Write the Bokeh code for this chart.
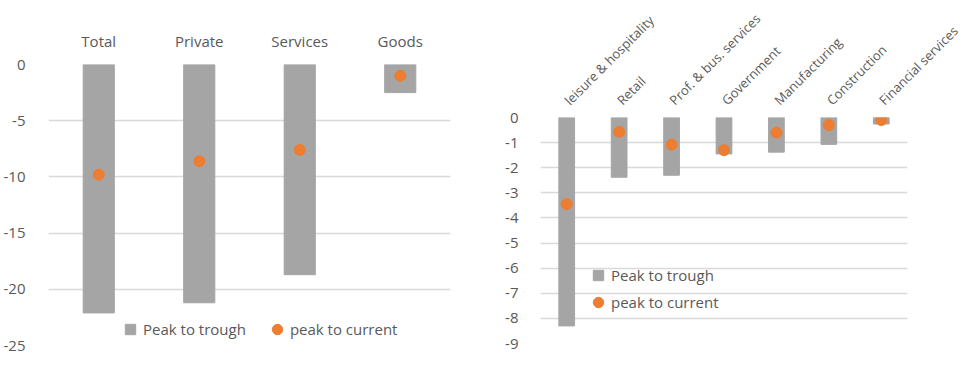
import math
from bokeh.plotting import figure
from bokeh.models import (FactorRange, Range1d, Legend, LegendItem, FixedTicker,
                          ColumnDataSource, PrintfTickFormatter)
from bokeh.layouts import row, column
from bokeh.embed import file_html
from bokeh.resources import INLINE

# ---- data ----
left_cats = ["Total", "Private", "Services", "Goods"]
left_trough = [-22.1, -21.2, -18.7, -2.5]
left_current = [-9.8, -8.6, -7.6, -1.0]
left_ticks = [0, -5, -10, -15, -20, -25]

right_cats = ["leisure & hospitality", "Retail", "Prof. & bus. services", "Government",
              "Manufacturing", "Construction", "Financial services"]
right_trough = [-8.3, -2.38, -2.3, -1.45, -1.38, -1.07, -0.26]
right_current = [-3.45, -0.57, -1.08, -1.3, -0.6, -0.3, -0.1]
right_ticks = [0, -1, -2, -3, -4, -5, -6, -7, -8, -9]

series_names = ["Peak to trough", "peak to current"]

BAR = "#a5a5a5"
DOT = "#ed7d31"
TXT = "#595959"
GRID = "#d9d9d9"
FONT = "Open Sans"


def style(p, ticks):
    p.outline_line_color = None
    p.xgrid.grid_line_color = None
    tk = FixedTicker(ticks=ticks)
    p.yaxis.ticker = tk
    p.ygrid.ticker = tk
    p.yaxis.formatter = PrintfTickFormatter(format="%d")
    p.ygrid.grid_line_color = GRID
    p.ygrid.grid_line_width = 1.3
    for ax in p.axis:
        ax.axis_line_color = None
        ax.major_tick_line_color = None
        ax.minor_tick_line_color = None
        ax.major_label_text_color = TXT
        ax.major_label_text_font = FONT
        ax.major_label_text_font_size = "15px"
    p.yaxis.major_label_standoff = 16


def legend_for(p, cats, orientation, loc, spacing):
    # legend proxies: one row each, with no y value, so nothing is drawn in the plot
    proxy = ColumnDataSource(dict(cat=cats[:1], y=[float("nan")]))
    sq = p.scatter(x="cat", y="y", marker="square", size=10, color=BAR, source=proxy)
    ci = p.scatter(x="cat", y="y", marker="circle", size=11, color=DOT, source=proxy)
    leg = Legend(items=[LegendItem(label=series_names[0], renderers=[sq], index=0),
                        LegendItem(label=series_names[1], renderers=[ci], index=0)],
                 orientation=orientation, location=loc, padding=0, margin=0,
                 spacing=spacing, label_standoff=-3, glyph_width=26, glyph_height=26,
                 background_fill_alpha=0, border_line_color=None,
                 label_text_font=FONT, label_text_font_size="15px", label_text_color=TXT)
    p.add_layout(leg, "center")


# ---- left chart ----
p1 = figure(width=480, height=360, x_range=FactorRange(*left_cats, range_padding=0),
            y_range=Range1d(-25, 0), x_axis_location="above",
            output_backend="svg", toolbar_location=None,
            min_border_left=45, min_border_right=30, min_border_top=64, min_border_bottom=15)
src1 = ColumnDataSource(dict(cat=left_cats, trough=left_trough, cur=left_current))
p1.vbar(x="cat", top=0, bottom="trough", width=0.31, color=BAR, source=src1)
p1.scatter(x="cat", y="cur", size=11, color=DOT, source=src1)
style(p1, left_ticks)
p1.yaxis.major_label_standoff = 17
p1.xaxis.major_label_standoff = 8
legend_for(p1, left_cats, "horizontal", (69, 3), 18)

# ---- right chart ----
p2 = figure(width=490, height=360, x_range=FactorRange(*right_cats, range_padding=0),
            y_range=Range1d(-9, 0), x_axis_location="above",
            output_backend="svg", toolbar_location=None,
            min_border_left=60, min_border_right=63, min_border_top=117, min_border_bottom=17)
src2 = ColumnDataSource(dict(cat=right_cats, trough=right_trough, cur=right_current))
p2.vbar(x="cat", top=0, bottom="trough", width=0.3, color=BAR, source=src2)
p2.scatter(x="cat", y="cur", size=11, color=DOT, source=src2)
style(p2, right_ticks)
p2.xaxis.major_label_orientation = math.pi / 4
p2.xaxis.major_label_standoff = 9
p2.xaxis.major_label_text_font_size = "13px"
legend_for(p2, right_cats, "vertical", (45, 28), 1)

layout = row(column(p1), column(p2))
open("out.html", "w").write(file_html(layout, INLINE))
